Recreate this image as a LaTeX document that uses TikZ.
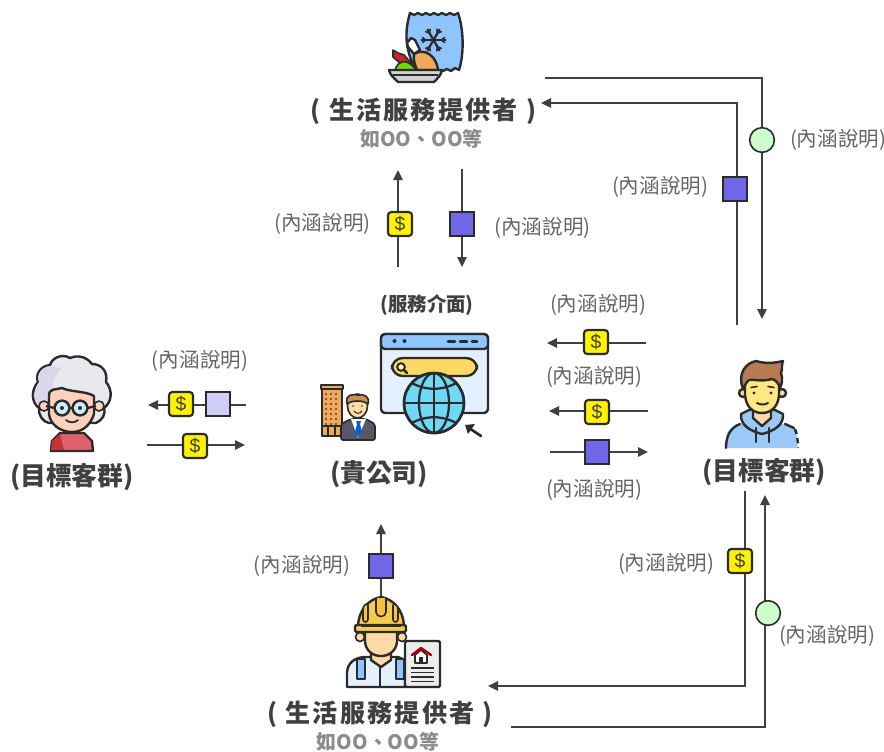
\documentclass[tikz,border=0pt]{standalone}
\usepackage{fontspec}
\setmainfont{Noto Sans CJK TC}
\newfontfamily\spacedfont[LetterSpace=9]{Noto Sans CJK TC}
\newfontfamily\dollarfont{Liberation Sans}
\usetikzlibrary{arrows.meta}
\definecolor{ink}{HTML}{404040}
\definecolor{lab}{HTML}{666666}
\definecolor{sub}{HTML}{8C8C8C}
\definecolor{olin}{HTML}{2B2B2B}
\definecolor{sqblue}{HTML}{6F66E8}
\definecolor{sqpale}{HTML}{CFCDF5}
\definecolor{skin}{HTML}{FFD9A6}
\definecolor{bagb}{HTML}{8EC5FF}
\definecolor{hairb}{HTML}{B87A50}
\definecolor{hood}{HTML}{9CC8F8}
\definecolor{pageb}{HTML}{E3F0FF}
\definecolor{globe}{HTML}{6FD8F5}
\definecolor{hat}{HTML}{F6CB4A}
\definecolor{orangeb}{HTML}{EFA85C}
\definecolor{suit}{HTML}{5A5766}
\definecolor{hairg}{HTML}{E8E8EE}
\definecolor{hairl}{HTML}{D9D8EA}
\definecolor{pink}{HTML}{FFD0BC}
\definecolor{top}{HTML}{E0606E}
\tikzset{
 conn/.style={draw=ink,line width=1.5pt},
 arr/.style={conn,-{Triangle[length=7.5pt,width=7pt]}},
 dollarbox/.style={draw=olin,line width=1.6pt,fill=yellow,rounded corners=2.5pt,minimum size=18pt,inner sep=0pt,text=ink,font=\fontsize{14.5}{14.5}\selectfont\dollarfont},
 sqbox/.style={draw=olin,line width=1.6pt,fill=#1,minimum size=18pt,inner sep=0pt},
 sqbox/.default={sqblue},
 gcirc/.style={draw=olin,line width=1.2pt,fill=green!20!white,circle,minimum size=18.5pt,inner sep=0pt},
 explain/.style={text=lab,font=\fontsize{15.4}{16}\selectfont,inner sep=0pt,yshift=-0.7pt},
 title/.style={text=ink,font=\fontsize{19.3}{20}\selectfont\bfseries,inner sep=0pt},
 ptitle/.style={text=ink,font=\fontsize{18.8}{20}\selectfont\spacedfont\bfseries,inner sep=0pt,yshift=-1pt},
 subt/.style={text=sub,font=\fontsize{14.9}{16}\selectfont\bfseries,inner sep=0pt},
 ol/.style={draw=olin,line width=1.8pt,line join=round,line cap=round},
 ol2/.style={draw=olin,line width=1.2pt,line join=round,line cap=round},
}
\begin{document}
\begin{tikzpicture}[x=0.75pt,y=-0.75pt]
\useasboundingbox (0,0) rectangle (884,751);
\fill[white] (0,0) rectangle (884,751);

% ---------- free ends of the connectors
\coordinate (ta) at (545,78); \coordinate (tb) at (762,78); \coordinate (tc) at (762,319);
\coordinate (ua) at (737,325); \coordinate (ub) at (737,103); \coordinate (uc) at (541,103);
\coordinate (va) at (398,267); \coordinate (vb) at (398,170);
\coordinate (wa) at (462,169); \coordinate (wb) at (462,267);
\coordinate (la) at (246,405); \coordinate (lb) at (148,405);
\coordinate (lc) at (147,445); \coordinate (ld) at (245,445);
\coordinate (ma) at (646,343); \coordinate (mb) at (547,343);
\coordinate (mc) at (648,411); \coordinate (md) at (549,411);
\coordinate (me) at (550,452); \coordinate (mf) at (648,452);
\coordinate (ba) at (381,602); \coordinate (bb) at (381,524);
\coordinate (ca) at (745,491); \coordinate (cb) at (745,686); \coordinate (cc) at (488,686);
\coordinate (da) at (511,727); \coordinate (db) at (765,727); \coordinate (dc) at (765,495);

\draw[arr] (ta) -- (tb) -- (tc);
\draw[arr] (ua) -- (ub) -- (uc);
\draw[arr] (va) -- (vb);
\draw[arr] (wa) -- (wb);
\draw[arr] (la) -- (lb);
\draw[arr] (lc) -- (ld);
\draw[arr] (ma) -- (mb);
\draw[arr] (mc) -- (md);
\draw[arr] (me) -- (mf);
\draw[arr] (ba) -- (bb);
\draw[arr] (ca) -- (cb) -- (cc);
\draw[arr] (da) -- (db) -- (dc);

% ---------- markers
\node[gcirc] (g1) at (762,140) {};
\node[sqbox] (s1) at (735,189) {};
\node[dollarbox] (d1) at (400,224) {\$};
\node[sqbox] (s2) at (462,224) {};
\node[dollarbox] (d2) at (181,404) {\$};
\node[sqbox=sqpale] (s3) at (218,404) {};
\node[dollarbox] (d3) at (195,446) {\$};
\node[dollarbox] (d4) at (596,342) {\$};
\node[dollarbox] (d5) at (597,412) {\$};
\node[sqbox] (s4) at (597,452) {};
\node[sqbox] (s5) at (381,566) {};
\node[dollarbox] (d6) at (740,561) {\$};
\node[gcirc] (g2) at (768,613) {};

% ---------- labels
\node[ptitle] (t1) at (423.5,110) {( 生活服務提供者 )};
\node[subt] (t1s) at (421.5,139) {如OO、OO等};
\node[ptitle] (t2) at (380,713) {( 生活服務提供者 )};
\node[subt] (t2s) at (378,742) {如OO、OO等};
\node[title] (t3) at (72,477) {(目標客群)};
\node[title] (t4) at (379,474) {(貴公司)};
\node[title] (t5) at (764,472) {(目標客群)};
\node[text=ink,font=\fontsize{14.6}{15}\selectfont\bfseries,inner sep=0pt] (t6) at (427,305) {(服務介面)};
\node[explain] (e1) at (322.5,223) {(內涵說明)};
\node[explain] (e2) at (542.5,227) {(內涵說明)};
\node[explain] (e3) at (660,186) {(內涵說明)};
\node[explain] (e4) at (838,139) {(內涵說明)};
\node[explain] (e5) at (598,304) {(內涵說明)};
\node[explain] (e6) at (594,376) {(內涵說明)};
\node[explain] (e7) at (594,489) {(內涵說明)};
\node[explain] (e8) at (200,360) {(內涵說明)};
\node[explain] (e9) at (302,565) {(內涵說明)};
\node[explain] (e10) at (666,563) {(內涵說明)};
\node[explain] (e11) at (827,635) {(內涵說明)};

% ---------- icon: frozen bag with food
\path[ol,fill=bagb] (410,13) -- (414,15) -- (418,13) -- (422,15) -- (426,13) -- (430,15) -- (434,13) -- (438,15) -- (442,13) -- (446,15) -- (450,13) -- (454,15) -- (458,13)
  .. controls (464,30) and (464,55) .. (459,70) -- (455,68) -- (451,71) -- (447,69) -- (443,71)-- (436,70) -- (412,62)
  .. controls (405,45) and (405,30) .. (410,13) -- cycle;
\foreach \a in {0,60,120} {
  \draw[olin,line width=1.7pt,line cap=round] (433.5,40) ++(\a:12) -- ++(\a+180:24);
}
\foreach \a in {0,60,120,180,240,300} {
  \draw[olin,line width=1.2pt,line cap=round] (433.5,40) ++(\a:8) -- ++(\a+40:4);
  \draw[olin,line width=1.2pt,line cap=round] (433.5,40) ++(\a:8) -- ++(\a-40:4);
}
% greens and chicken
\path[ol2,fill=red!75!black!85!white] (393,50) -- (398,53) -- (404,55) -- (414,66) -- (400,63) -- (393,57) -- cycle;
\path[ol2,fill=green!50!yellow!85!black] (395,70) .. controls (398,60) and (408,58) .. (416,70) -- cycle;
\path[ol,fill=white] (407,43) -- (411,38) -- (415,40) -- (420,50) -- (414,54) -- (408,47) -- cycle;
\path[ol,fill=orangeb] (414,54) .. controls (425,47) and (437,57) .. (438,70) -- (417,70) .. controls (415,65) and (413,60) .. (414,54) -- cycle;
\path[ol,fill=black!18] (389,70) -- (442,70) .. controls (441,75) and (438,78) .. (434,82) -- (398,82) .. controls (394,78) and (390,75) .. (389,70) -- cycle;
\draw[olin,line width=1pt] (393,75) -- (438,75);

% ---------- icon: browser with globe
\path[ol,fill=pageb,rounded corners=3pt] (381,334) rectangle (488,413);
\path[ol,fill=bagb,rounded corners=3pt] (381,334) rectangle (488,349);
\fill[olin] (394.5,341) circle (2) (404.5,341) circle (2);
\draw[olin,line width=2pt,line cap=round] (448,341.5) -- (455,341.5) (460,341.5) -- (467,341.5) (472,341.5) -- (477,341.5);
\path[ol,fill=yellow!55!orange!60!white,rounded corners=8pt] (392,358) rectangle (477,376);
\draw[olin,line width=1.5pt,fill=yellow!30!white] (401,367) circle (3.8);
\draw[olin,line width=2pt,line cap=round] (404,370) -- (407,373);
\path[ol,fill=globe] (434,403) circle (30);
\begin{scope}
\clip (434,403) circle (30);
\draw[olin,line width=1.7pt] (434,373) -- (434,433);
\draw[olin,line width=1.7pt] (434,403) ellipse (15 and 30);
\draw[olin,line width=1.7pt] (404,403) -- (464,403);
\draw[olin,line width=1.7pt] (410,382) .. controls (425,391) and (443,391) .. (458,382);
\draw[olin,line width=1.7pt] (410,424) .. controls (425,415) and (443,415) .. (458,424);
\end{scope}
\draw[olin,line width=1.9pt] (434,403) circle (30);
\draw[olin,line width=2pt,line cap=round] (481,436) -- (469,428);
\fill[olin] (465,425) -- (475,424) -- (468,434) -- cycle;

% ---------- icon: building and businessman
\path[ol2,fill=orangeb] (322,389) rectangle (342,436);
\path[ol2,fill=orangeb] (321,385) rectangle (343,389);
\foreach \i in {393,398,...,423} \foreach \j in {325,330,335}
  \fill[brown!70!black] (\j,\i) rectangle ++(1.8,1.8);
\draw[olin,line width=.8pt] (328,426) -- (328,436) (335,426) -- (335,436);
\draw[olin,line width=.8pt] (322,426) -- (342,426);
\path[ol2,fill=suit,rounded corners=1.5pt] (341,440) -- (341,424) -- (351,419) -- (366,419) -- (375,424) -- (375,440) -- cycle;
\path[fill=white] (351,419) -- (366,419) -- (358,438) -- cycle;
\fill[blue!55!cyan!85!black] (356,421) -- (361,421) -- (360,424) -- (362,432) -- (358,437) -- (355,432) -- (357,424) -- cycle;
\path[ol2,fill=skin] (357.5,406) ellipse (10 and 12);
\path[ol2,fill=orangeb!85!black] (347,404) .. controls (345,394) and (352,394) .. (358,395) .. controls (364,394) and (370,396) .. (368,404) .. controls (363,400) and (352,400) .. (347,404) -- cycle;
\fill[olin] (353,406) circle (.9) (362,406) circle (.9);
\draw[olin,line width=.8pt] (354,411) .. controls (356,414) and (360,414) .. (362,411);

% ---------- icon: grandmother
\path[ol,fill=top] (51,451) -- (52,441) -- (60,433) -- (84,433) -- (92,441) -- (93,451) -- cycle;
\path[fill=red!70!black!80!white] (51,450) -- (52,441) -- (60,434) -- (64,450) -- cycle;
\path[ol,fill=hairg] (70,358) .. controls (62,353) and (52,358) .. (50,365) .. controls (40,366) and (35,375) .. (38,382) .. controls (31,390) and (31,402) .. (39,408) .. controls (38,415) and (43,422) .. (49,423) -- (96,423) .. controls (102,420) and (106,415) .. (104,408) .. controls (112,402) and (113,390) .. (106,382) .. controls (108,372) and (102,364) .. (92,364) .. controls (86,356) and (77,355) .. (70,358) -- cycle;
\fill[hairl] (50,366) .. controls (41,367) and (36,375) .. (39,382) .. controls (33,390) and (33,402) .. (40,407) -- (52,400) .. controls (50,385) and (55,375) .. (62,368) -- cycle;
\path[ol2,fill=pink] (44,406) circle (5);
\path[ol2,fill=pink] (99,406) circle (5);
\path[ol,fill=pink] (49,396) .. controls (49,388) and (55,390) .. (62,388) .. controls (70,392) and (86,391) .. (94,396) -- (94,414) .. controls (90,426) and (82,432) .. (72,432) .. controls (60,432) and (50,424) .. (49,414) -- cycle;
\path[ol2,fill=cyan!20!white] (62,408) circle (7);
\path[ol2,fill=cyan!20!white] (80,408) circle (7);
\draw[olin,line width=1.7pt] (62,408) circle (7.5) (80,408) circle (7.5) (69.5,408) -- (72.5,408) (54.5,408) -- (46,406) (87.5,408) -- (96,406);
\fill[olin] (62,408) circle (2) (80,408) circle (2);
\draw[olin,line width=1.3pt,line cap=round] (66,420) .. controls (69,423) and (75,423) .. (78,420);

% ---------- icon: young man
\path[fill=hood,rounded corners=2pt] (726,448) -- (727,432) -- (738,424) -- (784,424) -- (796,430) -- (798,448) -- cycle;
\draw[ol] (726,448) .. controls (726,438) and (729,428) .. (740,424);
\draw[ol] (785,424) -- (794,428);
\draw[olin,line width=1.8pt,dash pattern=on 4pt off 3pt] (795,429) .. controls (797,434) and (798,440) .. (798,448);
\path[ol,fill=hood] (741,414) .. controls (740,425) and (750,431) .. (762,434) .. controls (774,431) and (784,425) .. (783,414) -- (775,410) -- (749,410) -- cycle;
\path[ol,fill=skin] (753,408) -- (771,408) -- (771,418) -- (762,426) -- (753,418) -- cycle;
\draw[ol] (756,428) -- (756,442) (769,428) -- (769,442);
\path[ol,fill=skin] (743,393) circle (4);
\path[ol,fill=skin] (782,393) circle (4);
\path[ol,fill=skin!70!yellow!90!white] (745,378) -- (779,378) -- (779,395) .. controls (778,408) and (770,413) .. (762,413) .. controls (754,413) and (746,408) .. (745,395) -- cycle;
\path[ol,fill=hairb] (743,389) .. controls (737,373) and (746,363) .. (756,361) .. controls (766,364) and (774,363) .. (783,361) .. controls (781,365) and (783,368) .. (781,373) .. controls (783,378) and (782,384) .. (780,388) .. controls (779,384) and (776,380) .. (772,379) .. controls (762,382) and (752,379) .. (749,380) .. controls (746,382) and (745,386) .. (743,389) -- cycle;
\fill[olin] (754,393) circle (1.6) (771,393) circle (1.6);
\draw[olin,line width=1.2pt,line cap=round] (751,387.5) -- (757,386.5) (768,386.5) -- (774,387.5);
\draw[olin,line width=1.5pt,line cap=round] (757,403) .. controls (760,405) and (765,405) .. (768,403);

% ---------- icon: construction worker and house sheet
\path[ol,fill=pageb] (347,687) -- (347,672) .. controls (348,662) and (355,658) .. (364,657) -- (374,657) -- (380,666) -- (388,657) -- (398,657) -- (405,660) -- (405,687) -- cycle;
\draw[olin,line width=1.2pt] (380,666) -- (380,687);
\path[ol2,fill=bagb] (357,659) rectangle (365,679);
\path[ol2,fill=bagb] (396,659) rectangle (404,679);
\path[ol2,fill=skin] (360,637) circle (4.5);
\path[ol2,fill=skin] (402,637) circle (4.5);
\path[ol,fill=skin] (371,645) -- (391,645) -- (391,660) -- (381,667) -- (371,660) -- cycle;
\path[ol,fill=skin] (365,630) -- (397,630) -- (397,642) .. controls (396,651) and (389,656) .. (381,656) .. controls (373,656) and (366,651) .. (365,642) -- cycle;
\path[ol,fill=hat] (358,626) .. controls (359,608) and (370,599) .. (381,597) .. controls (392,599) and (403,608) .. (404,626) -- cycle;
\path[ol,fill=hat,rounded corners=1.5pt] (355,625) rectangle (406,632);
\draw[olin,line width=1pt] (361,626.5) -- (401,626.5);
\path[ol2,fill=hat!85!orange] (376,598) -- (376,612) .. controls (376,618) and (386,618) .. (386,612) -- (386,598);
\path[ol2,fill=hat!85!orange,rounded corners=2pt] (363,606) -- (368,603) -- (368,622) -- (363,622) -- cycle;
\path[ol2,fill=hat!85!orange,rounded corners=2pt] (398,606) -- (393,603) -- (393,622) -- (398,622) -- cycle;
\path[ol,fill=black!7!white,rounded corners=1.5pt] (405,641) rectangle (440,687);
\path[ol2,fill=white] (415,655) -- (415,663) -- (427,663) -- (427,655) -- (421,650) -- cycle;
\draw[red!70!black,line width=1.8pt,line join=round,line cap=round] (412,655) -- (421,648) -- (431,655);
\fill[olin] (419,657) rectangle (423,663);
\draw[olin,line width=1.3pt] (411,668) -- (434,668) (411,672.5) -- (434,672.5) (411,677) -- (434,677) (411,681.5) -- (434,681.5);
\end{tikzpicture}
\end{document}
